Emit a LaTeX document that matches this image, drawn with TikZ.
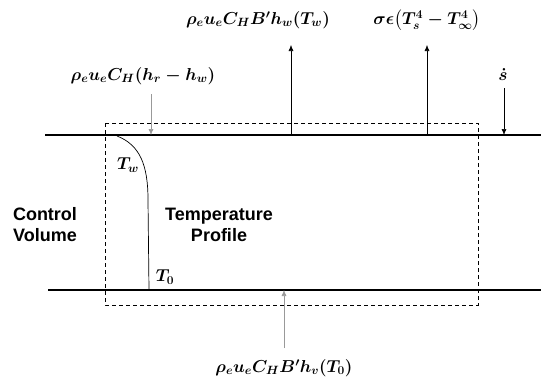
\documentclass[tikz,border=0pt]{standalone}
\usepackage{amsmath}
\usepackage{fontspec}
\setsansfont{Liberation Sans}
\usetikzlibrary{arrows.meta}
\tikzset{
  flux/.style={-{Latex[length=6pt,width=5pt]}, line width=0.6pt},
  gflux/.style={flux, draw=gray!80},
  wall/.style={line width=1.1pt},
  cvbox/.style={line width=0.7pt, dash pattern=on 4pt off 3pt},
  mlab/.style={font=\fontsize{18}{21}\selectfont\boldmath, inner sep=0pt},
  slab/.style={font=\sffamily\bfseries\fontsize{18}{21}\selectfont, align=center, inner sep=0pt}
}
\begin{document}
\begin{tikzpicture}[x=1pt,y=-1pt]
\useasboundingbox (0,0) rectangle (541,384);
% walls
\coordinate (tl) at (45,135); \coordinate (tr) at (541,135);
\coordinate (bl) at (48,290); \coordinate (br) at (541,290);
\draw[wall] (tl) -- (tr);
\draw[wall] (bl) -- (br);
% control volume
\draw[cvbox] (105,123) rectangle (478,305);
% profile
\coordinate (p0) at (117,136); \coordinate (p1) at (149,290);
\draw[line width=0.7pt] (p0) .. controls (140,145) and (148,165) .. (148,200) -- (p1);
% labels
\node[mlab] (q1) at (143,76) {$\rho_e u_e C_H (h_r - h_w)$};
\node[mlab] (q2) at (258,20) {$\rho_e u_e C_H B' h_w(T_w)$};
\node[mlab] (q3) at (427,20) {$\sigma\epsilon\bigl(T_s^4 - T_\infty^4\bigr)$};
\node[mlab] (q4) at (503,74) {$\dot s$};
\node[mlab] (q5) at (284,368) {$\rho_e u_e C_H B' h_v(T_0)$};
\node[mlab] (tw) at (128,165) {$T_w$};
\node[mlab] (t0) at (165,277) {$T_0$};
\node[slab] (tp) at (219,225) {Temperature\\Profile};
\node[slab] (cv) at (45,225) {Control\\Volume};
% flux arrows
\coordinate (a1s) at (151,94);  \coordinate (a1e) at (151,135);
\coordinate (a2s) at (291,135); \coordinate (a2e) at (291,45);
\coordinate (a3s) at (427,135); \coordinate (a3e) at (427,45);
\coordinate (a4s) at (504,88);  \coordinate (a4e) at (504,135);
\coordinate (a5s) at (284,348); \coordinate (a5e) at (284,290);
\draw[gflux] (a1s) -- (a1e);
\draw[flux] (a2s) -- (a2e);
\draw[flux] (a3s) -- (a3e);
\draw[flux] (a4s) -- (a4e);
\draw[gflux] (a5s) -- (a5e);
\end{tikzpicture}
\end{document}
